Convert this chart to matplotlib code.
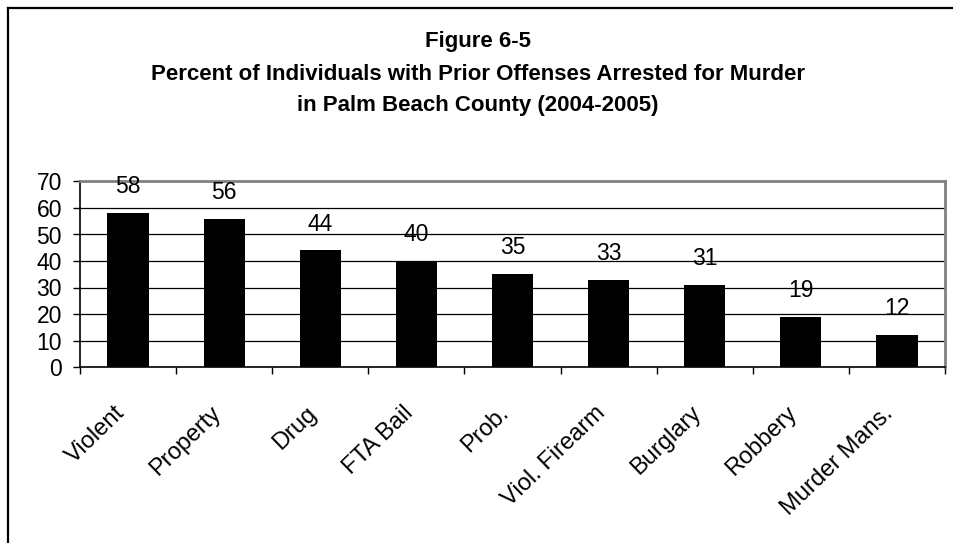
import matplotlib
matplotlib.use("Agg")
import matplotlib.pyplot as plt
from matplotlib.lines import Line2D

categories = ["Violent", "Property", "Drug", "FTA Bail", "Prob.", "Viol. Firearm",
              "Burglary", "Robbery", "Murder Mans."]
values = [58, 56, 44, 40, 35, 33, 31, 19, 12]
yticks = [0, 10, 20, 30, 40, 50, 60, 70]
title_lines = ["Figure 6-5",
               "Percent of Individuals with Prior Offenses Arrested for Murder",
               "in Palm Beach County (2004-2005)"]

plt.rcParams['font.family'] = ['Liberation Sans', 'DejaVu Sans']

W, H = 954, 543
fig = plt.figure(figsize=(W / 100, H / 100), dpi=100)

# outer frame (top and left edges visible)
fig.add_artist(Line2D([8 / W, 1.0], [1 - 7.5 / H, 1 - 7.5 / H], color='black', lw=1.6,
                      transform=fig.transFigure))
fig.add_artist(Line2D([8 / W, 8 / W], [0, 1 - 7.5 / H], color='black', lw=1.6,
                      transform=fig.transFigure))

# title
for i, t in enumerate(title_lines):
    fig.text(478 / W, 1 - (42 + 32 * i) / H, t, ha='center', va='center',
             fontsize=16, fontweight='bold')

ax = fig.add_axes([80 / W, 1 - 367 / H, (945 - 80) / W, (367 - 181.5) / H])
x = list(range(len(categories)))
ax.bar(x, values, width=0.43, color='black', zorder=3)
ax.set_xlim(-0.5, len(categories) - 0.5)
ax.set_ylim(0, 70)
ax.set_yticks(yticks)
ax.set_yticklabels([str(v) for v in yticks], fontsize=16.5)
for v in yticks[1:-1]:
    ax.axhline(v, color='black', lw=0.9, zorder=1)

ax.set_xticks([i - 0.5 for i in range(len(categories) + 1)])
ax.set_xticklabels([])
ax.tick_params(axis='x', direction='out', length=5, width=1, color='black')
ax.tick_params(axis='y', direction='out', length=5, width=1, color='black', pad=8)

for i, c in enumerate(categories):
    ax.annotate(c, xy=(i, 0), xycoords=('data', 'axes fraction'),
                xytext=(-5, -31), textcoords='offset points',
                rotation=44, rotation_mode='anchor', ha='right', va='center',
                fontsize=17)

for i, v in enumerate(values):
    ax.annotate(str(v), xy=(i, v), xytext=(0, 19), textcoords='offset points',
                ha='center', va='center', fontsize=16.5, zorder=4)

ax.spines['left'].set_color('black')
ax.spines['bottom'].set_color('black')
ax.spines['top'].set_color('#808080')
ax.spines['right'].set_color('#808080')
for s in ax.spines.values():
    s.set_linewidth(1.2)
ax.spines['top'].set_linewidth(2)
ax.spines['right'].set_linewidth(2)

fig.savefig("out.png", dpi=100)
